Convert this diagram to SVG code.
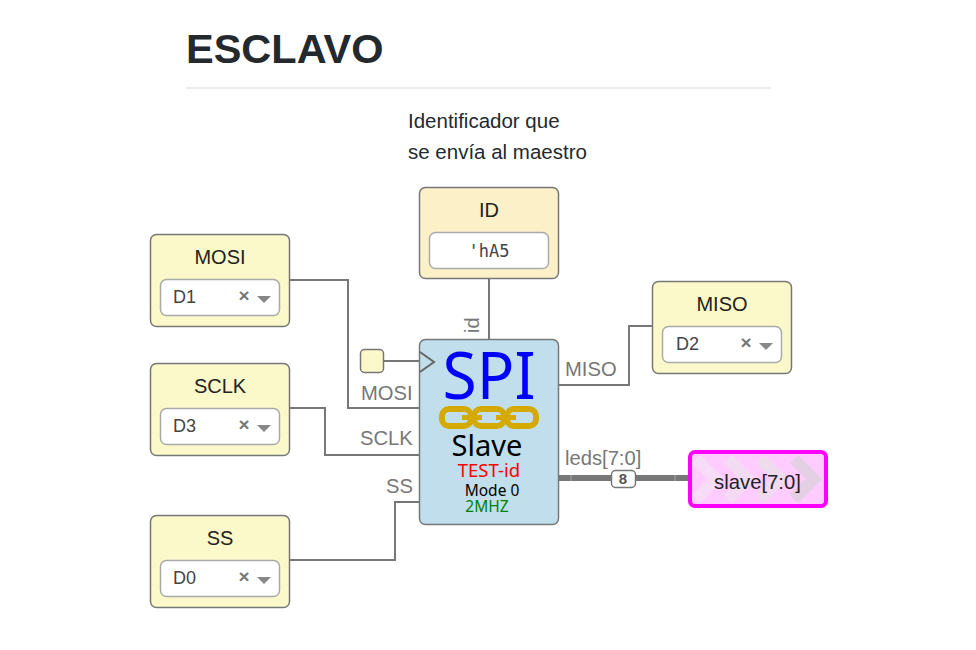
<svg xmlns="http://www.w3.org/2000/svg" width="976" height="650" viewBox="0 0 976 650">
<style>
text{font-family:"Liberation Sans",Arial,sans-serif}
.box{stroke:#777;stroke-width:1.5}
.in{fill:#fbf9c9}
.c{fill:none;stroke:#777;stroke-width:2}
.bus{fill:none;stroke:#777;stroke-width:6}
.lb{fill:#777;font-size:20.200px}
.t{fill:#222;font-size:20px;text-anchor:middle}
.w{fill:#fff;stroke:#aaa;stroke-width:1.5}
.v{fill:#444;font-size:18px}
.x{fill:#777;font-size:19px;font-weight:bold;text-anchor:middle}
.s{font-family:"Noto Sans",sans-serif;text-anchor:middle}
.chev{fill:none;stroke-width:12}
</style>
<defs><clipPath id="sl"><rect x="690" y="454" width="136" height="50" rx="4"/></clipPath></defs>
<rect width="976" height="650" fill="#fff"/>
<text x="186" y="63" font-size="41.500" font-weight="bold" fill="#24292e">ESCLAVO</text>
<rect x="186" y="87" width="585" height="2" fill="#eaecef"/>
<text x="408" y="128" font-size="20.500" fill="#24292e">Identificador que</text>
<text x="408" y="159" font-size="20.500" fill="#24292e">se envía al maestro</text>
<g id="connectors">
<path class="c" d="M289 280H348V408H419"/>
<path class="c" d="M289 408H325V455H419"/>
<path class="c" d="M289 560H395V502H419"/>
<path class="c" d="M489 278V339"/>
<path class="c" d="M384 361H419"/>
<path class="c" d="M558 385H629V326H653"/>
<path class="bus" d="M558 478H689"/>
<path d="M571 475v6M675 475v6" stroke="#aaa" stroke-width="1"/>
</g>
<g id="node-mosi">
<rect class="box in" x="150.500" y="234.500" width="139" height="92" rx="6"/>
<text class="t" x="220" y="264">MOSI</text>
<rect class="w" x="160.500" y="279.500" width="119" height="36" rx="6"/>
<text class="v" x="173" y="303">D1</text>
<text class="x" x="244" y="302">×</text>
<path d="M257 296h14l-7 7z" fill="#888"/>
</g>
<g id="node-sclk">
<rect class="box in" x="150.500" y="363.500" width="139" height="92" rx="6"/>
<text class="t" x="220" y="393">SCLK</text>
<rect class="w" x="160.500" y="408.500" width="119" height="36" rx="6"/>
<text class="v" x="173" y="432">D3</text>
<text class="x" x="244" y="431">×</text>
<path d="M257 425h14l-7 7z" fill="#888"/>
</g>
<g id="node-ss">
<rect class="box in" x="150.500" y="515.500" width="139" height="92" rx="6"/>
<text class="t" x="220" y="545">SS</text>
<rect class="w" x="160.500" y="560.500" width="119" height="36" rx="6"/>
<text class="v" x="173" y="584">D0</text>
<text class="x" x="244" y="583">×</text>
<path d="M257 577h14l-7 7z" fill="#888"/>
</g>
<g id="node-id">
<rect class="box" fill="#fcf0c9" x="419.500" y="187.500" width="139" height="91" rx="6"/>
<text class="t" x="489" y="217">ID</text>
<rect class="w" x="429.500" y="232.500" width="119" height="36" rx="6"/>
<text x="489" y="257" text-anchor="middle" font-size="17" fill="#444" style="font-family:'DejaVu Sans Mono',monospace">'hA5</text>
</g>
<g id="node-miso">
<rect class="box in" x="652.500" y="281.500" width="139" height="92" rx="6"/>
<text class="t" x="722" y="311">MISO</text>
<rect class="w" x="662.500" y="326.500" width="119" height="36" rx="6"/>
<text class="v" x="676" y="350">D2</text>
<text class="x" x="746" y="349">×</text>
<path d="M759 343h14l-7 7z" fill="#888"/>
</g>
<g id="node-clk">
<rect class="box in" x="360.500" y="349.500" width="23" height="23" rx="4"/>
</g>
<g id="node-spi">
<rect x="419.500" y="339.500" width="139" height="185" rx="6" fill="#c0deeb" stroke="#777" stroke-width="1.500"/>
<path d="M420 352L434 362L420 372" fill="none" stroke="#666" stroke-width="2"/>
<text class="s" x="489" y="399" font-size="65" fill="#00f" textLength="93" lengthAdjust="spacingAndGlyphs">SPI</text>
<g fill="none" stroke="#d4aa00" stroke-width="6">
<rect x="442" y="409" width="29" height="17" rx="7"/>
<rect x="474" y="409" width="30" height="17" rx="7"/>
<rect x="507" y="409" width="29" height="17" rx="7"/>
<path d="M462 417.500H482M496 417.500H516" stroke-width="5"/>
</g>
<text class="s" x="487" y="456" font-size="29" fill="#000">Slave</text>
<text class="s" x="489" y="477" font-size="18.500" fill="#f00">TEST-id</text>
<text class="s" x="492" y="496" font-size="15.500" fill="#000">Mode 0</text>
<text class="s" x="487" y="512" font-size="15.500" fill="#008000">2MHZ</text>
</g>
<text class="lb" x="361" y="400">MOSI</text>
<text class="lb" x="360" y="445">SCLK</text>
<text class="lb" x="386" y="493">SS</text>
<text class="lb" x="565" y="376">MISO</text>
<text class="lb" x="565" y="465">leds[7:0]</text>
<text class="lb" transform="translate(479 333) rotate(-90)">id</text>
<g id="bus-width">
<rect x="611.500" y="470.500" width="24" height="17" rx="4" fill="#fff" stroke="#777" stroke-width="1.500"/>
<text x="623" y="484" text-anchor="middle" font-size="15" font-weight="bold" fill="#555">8</text>
</g>
<g id="node-slave">
<rect x="690" y="452" width="136" height="54" rx="5" fill="#fcf"/>
<g class="chev" clip-path="url(#sl)">
<path d="M696 459L716 479L696 499" stroke="#f6dcf6"/>
<path d="M728 459L748 479L728 499" stroke="#f3dcf3"/>
<path d="M760 459L780 479L760 499" stroke="#eedbee"/>
<path d="M794 459L814 479L794 499" stroke="#e4cfe4"/>
</g>
<rect x="690" y="452" width="136" height="54" rx="5" fill="none" stroke="#f0f" stroke-width="4"/>
<text x="757.500" y="489" text-anchor="middle" font-size="20.300" fill="#222">slave[7:0]</text>
</g>
</svg>
